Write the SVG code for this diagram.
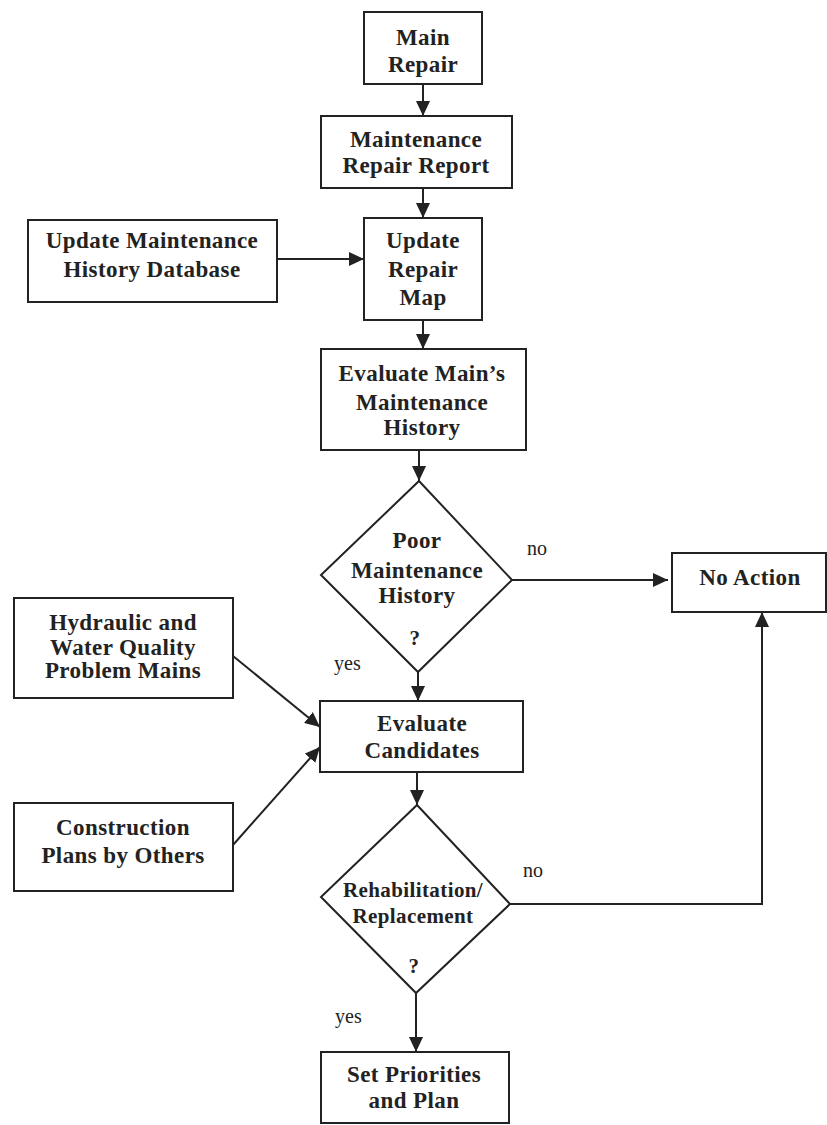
<svg xmlns="http://www.w3.org/2000/svg" width="827" height="1125" viewBox="0 0 827 1125">
<style>
.box{fill:#fff;stroke:#222;stroke-width:2}
.t{font-family:"Liberation Serif","Times New Roman",serif;font-weight:bold;font-size:23px;letter-spacing:0.4px;fill:#222;text-anchor:middle}
.s{font-size:21px}
.lbl{font-family:"Liberation Serif","Times New Roman",serif;font-size:20px;fill:#222}
.ln{fill:none;stroke:#222;stroke-width:2}
</style>
<defs>
<marker id="ah" markerUnits="userSpaceOnUse" markerWidth="16" markerHeight="14" refX="15" refY="7" orient="auto">
<path d="M0,0 L15,7 L0,14 Z" fill="#222"/>
</marker>
</defs>
<rect width="827" height="1125" fill="#fff"/>
<g id="connectors">
<line class="ln" x1="423" y1="84" x2="423" y2="116" marker-end="url(#ah)"/>
<line class="ln" x1="423" y1="188" x2="423" y2="218" marker-end="url(#ah)"/>
<line class="ln" x1="277" y1="259" x2="364" y2="259" marker-end="url(#ah)"/>
<line class="ln" x1="423" y1="320" x2="423" y2="349" marker-end="url(#ah)"/>
<line class="ln" x1="419" y1="450" x2="419" y2="481" marker-end="url(#ah)"/>
<line class="ln" x1="512" y1="580" x2="668" y2="580" marker-end="url(#ah)"/>
<line class="ln" x1="418" y1="672" x2="418" y2="701" marker-end="url(#ah)"/>
<line class="ln" x1="233" y1="656" x2="320" y2="727" marker-end="url(#ah)"/>
<line class="ln" x1="233" y1="845" x2="320" y2="747" marker-end="url(#ah)"/>
<line class="ln" x1="417" y1="772" x2="417" y2="805" marker-end="url(#ah)"/>
<polyline class="ln" points="510,904 762,904 762,612" marker-end="url(#ah)"/>
<line class="ln" x1="416" y1="993" x2="416" y2="1052" marker-end="url(#ah)"/>
<text class="lbl" x="527" y="555">no</text>
<text class="lbl" x="334" y="670">yes</text>
<text class="lbl" x="523" y="877">no</text>
<text class="lbl" x="335" y="1023">yes</text>
</g>
<g id="main-repair">
<rect class="box" x="364" y="12" width="118" height="72"/>
<text class="t" x="423" y="45">Main</text>
<text class="t" x="423" y="72">Repair</text>
</g>
<g id="maintenance-repair-report">
<rect class="box" x="321" y="116" width="191" height="72"/>
<text class="t" x="416" y="147">Maintenance</text>
<text class="t" x="416" y="173">Repair Report</text>
</g>
<g id="update-repair-map">
<rect class="box" x="364" y="218" width="118" height="102"/>
<text class="t" x="423" y="248">Update</text>
<text class="t" x="423" y="277">Repair</text>
<text class="t" x="423" y="305">Map</text>
</g>
<g id="update-history-db">
<rect class="box" x="28" y="220" width="249" height="82"/>
<text class="t" x="152" y="248">Update Maintenance</text>
<text class="t" x="152" y="277">History Database</text>
</g>
<g id="evaluate-history">
<rect class="box" x="321" y="349" width="205" height="101"/>
<text class="t" x="422" y="381">Evaluate Main’s</text>
<text class="t" x="422" y="410">Maintenance</text>
<text class="t" x="422" y="435">History</text>
</g>
<g id="poor-history">
<polygon class="box" points="419,481 512,580 418,672 321,575"/>
<text class="t" x="417" y="548">Poor</text>
<text class="t" x="417" y="578">Maintenance</text>
<text class="t" x="417" y="603">History</text>
<text class="t s" x="415" y="645">?</text>
</g>
<g id="no-action">
<rect class="box" x="672" y="553" width="154" height="59"/>
<text class="t" x="750" y="585">No Action</text>
</g>
<g id="hydraulic">
<rect class="box" x="14" y="598" width="219" height="100"/>
<text class="t" x="123" y="630">Hydraulic and</text>
<text class="t" x="123" y="655">Water Quality</text>
<text class="t" x="123" y="678">Problem Mains</text>
</g>
<g id="construction">
<rect class="box" x="14" y="803" width="219" height="88"/>
<text class="t" x="123" y="835">Construction</text>
<text class="t" x="123" y="863">Plans by Others</text>
</g>
<g id="evaluate-candidates">
<rect class="box" x="320" y="701" width="203" height="71"/>
<text class="t" x="422" y="731">Evaluate</text>
<text class="t" x="422" y="758">Candidates</text>
</g>
<g id="rehab">
<polygon class="box" points="417,805 510,904 416,993 321,897"/>
<text class="t s" x="413" y="897">Rehabilitation/</text>
<text class="t s" x="413" y="923">Replacement</text>
<text class="t s" x="414" y="973">?</text>
</g>
<g id="set-priorities">
<rect class="box" x="321" y="1052" width="188" height="71"/>
<text class="t" x="414" y="1082">Set Priorities</text>
<text class="t" x="414" y="1108">and Plan</text>
</g>
</svg>
